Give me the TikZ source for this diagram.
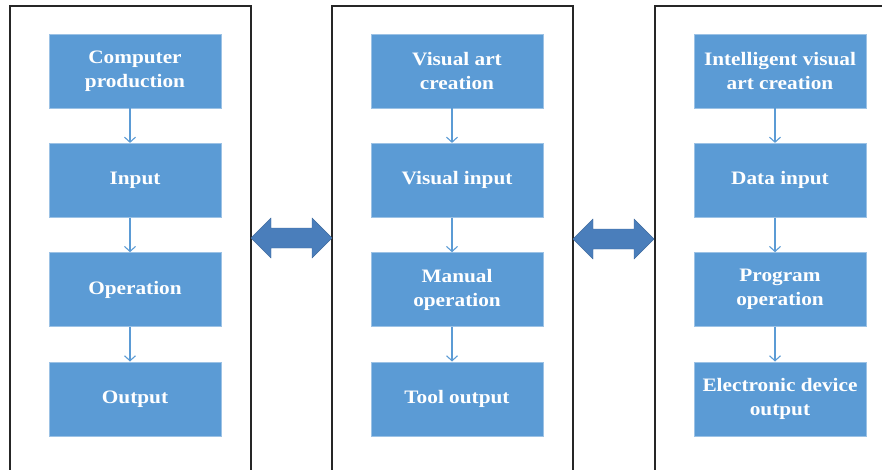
\documentclass[tikz,border=0pt]{standalone}
\usepackage{fontspec}
\setmainfont{Liberation Serif}
\newfontfamily\boxfont[FakeStretch=1.12]{Liberation Serif}
\usetikzlibrary{positioning,arrows.meta}
\definecolor{boxblue}{HTML}{5B9BD5}
\definecolor{boxedge}{HTML}{9CC2E5}
\definecolor{linkblue}{HTML}{4A7EBB}
\tikzset{
  stepbox/.style={draw=boxedge, fill=boxblue, text=white, line width=0.8pt,
    font=\boxfont\bfseries\fontsize{19}{24}\selectfont, align=center,
    minimum width=172pt, minimum height=74pt, inner sep=0pt},
  flow/.style={draw=boxblue, line width=1.1pt, -{Straight Barb[length=5pt,width=11pt]}},
  panel/.style={draw=black!85, line width=1.3pt},
  swap/.style={fill=linkblue, draw=linkblue!85!black, line width=0.4pt}
}
\begin{document}
\begin{tikzpicture}[x=1pt,y=-1pt]
\clip (0,0) rectangle (882,470);
%panels
\draw[panel] (10,480) -- (10,6) -- (251,6) -- (251,480);
\draw[panel] (332,480) -- (332,6) -- (573,6) -- (573,480);
\draw[panel] (655,480) -- (655,6) -- (890,6);
%left column
\node[stepbox] (c1) at (135,71) {Computer\\production};
\node[stepbox, below=34.5pt of c1] (c2) {Input};
\node[stepbox, below=34.5pt of c2] (c3) {Operation};
\node[stepbox, below=34.5pt of c3] (c4) {Output};
%middle column
\node[stepbox] (v1) at (457,71) {Visual art\\creation};
\node[stepbox, below=34.5pt of v1] (v2) {Visual input};
\node[stepbox, below=34.5pt of v2] (v3) {Manual\\operation};
\node[stepbox, below=34.5pt of v3] (v4) {Tool output};
%right column
\node[stepbox] (i1) at (780,71) {Intelligent visual\\art creation};
\node[stepbox, below=34.5pt of i1] (i2) {Data input};
\node[stepbox, below=34.5pt of i2] (i3) {Program\\operation};
\node[stepbox, below=34.5pt of i3] (i4) {Electronic device\\output};
\foreach \c in {c,v,i}{
	\foreach \a/\b in {1/2,2/3,3/4}{
		\draw[flow] ([xshift=-5pt]\c\a.south) -- ([xshift=-5pt]\c\b.north);
	}
}
%two-way arrows between panels
\draw[swap] (251,238) -- (271,218) -- (271,228) -- (312,228) -- (312,218) -- (332,238)
  -- (312,258) -- (312,248) -- (271,248) -- (271,258) -- cycle;
\draw[swap] (573,239) -- (593,219) -- (593,229) -- (634,229) -- (634,219) -- (654,239)
  -- (634,259) -- (634,249) -- (593,249) -- (593,259) -- cycle;
\end{tikzpicture}
\end{document}
